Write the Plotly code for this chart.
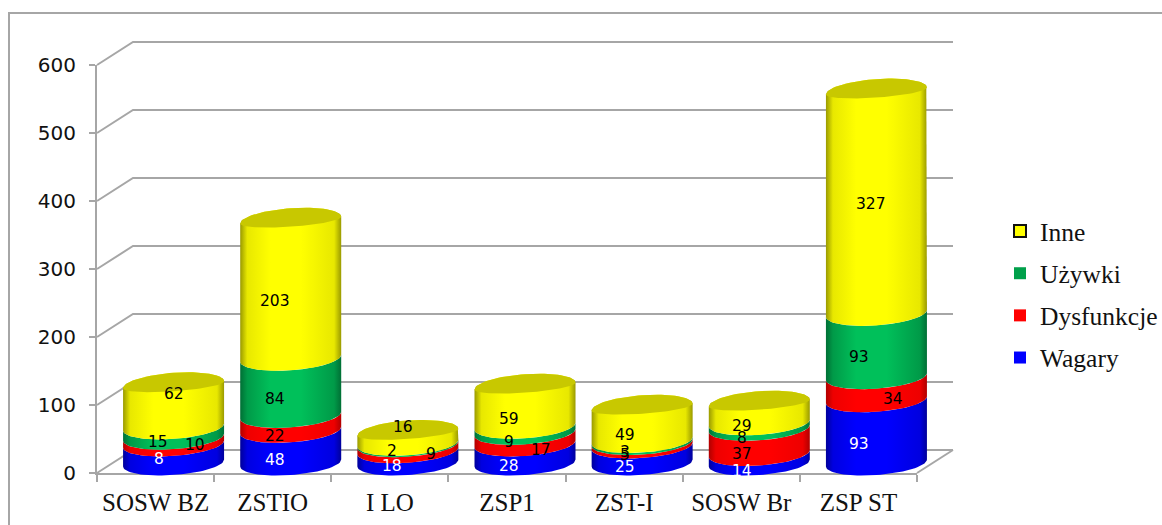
import math
import plotly.graph_objects as go

categories = ["SOSW BZ", "ZSTIO", "I LO", "ZSP1", "ZST-I", "SOSW Br", "ZSP ST"]
wagary = [28, 48, 18, 28, 25, 14, 93]
dysfunkcje = [10, 22, 9, 17, 5, 37, 34]
uzywki = [15, 84, 2, 9, 3, 8, 93]
inne = [62, 203, 16, 59, 49, 29, 327]
wagary_labels = ["8", "48", "18", "28", "25", "14", "93"]
y_ticks = [0, 100, 200, 300, 400, 500, 600]

# scale of the front plane, pixels per unit
W, H = 1162, 525
X0, Y0 = 97, 473
PX_U = 820 / 7
PX_V = 408 / 600
DEPTH_X, DEPTH_Y = 36, 23            # full depth of the 3D box
BAR_DX, BAR_DY = 18, 10              # depth position of the cylinders
A, B, SHEAR, B_TOP = 50.5, 12, 3.5, 6.5

def u(px): return px / PX_U
def v(px): return px / PX_V

GRID = "#a6a6a6"
series = [
    ("Wagary", wagary, ["#00009a", "#0000e0", "#0000ff", "#0000ff", "#0000e0", "#00009a"], "#0000ff", "white"),
    ("Dysfunkcje", dysfunkcje, ["#b00000", "#ee0000", "#ff0000", "#ff0000", "#ee0000", "#b00000"], "#ff0000", "black"),
    ("Używki", uzywki, ["#006f35", "#009a48", "#00c05a", "#00c05a", "#009a48", "#006f35"], "#00a04a", "black"),
    ("Inne", inne, ["#9a9a00", "#e8e800", "#ffff00", "#ffff00", "#e8e800", "#9a9a00"], "#ffff00", "black"),
]
# label nudges (pixels right, pixels down) from the middle of each cylinder segment
nudges = {
    "Wagary": [(-15, 5.5), (-16, 13.3), (-16, 9), (-16, 12.5), (-17, 12.5), (-17, 12.8), (-17, 12.6)],
    "Dysfunkcje": [(21, 4.4), (-16, 13.1), (23, 6), (16, 12), (-17, 10.7), (-17, 13), (17, 10.8)],
    "Używki": [(-16, 10), (-16, 12.2), (-16, 7), (-16, 12.7), (-17, 10.4), (-17, 12.4), (-17, 12)],
    "Inne": [(0, -12), (-16, 11.7), (-5, -11), (-16, 12.8), (-17, 11), (-17, 13), (-5, 1.8)],
}

def arc(cu, cv, b, start, stop, n=40):
    xs, ys = [], []
    for k in range(n + 1):
        t = math.radians(start + (stop - start) * k / n)
        xs.append(cu + u(A * math.cos(t)))
        ys.append(cv + v(b * math.sin(t) + SHEAR * math.cos(t)))
    return xs, ys

fig = go.Figure()
common = dict(xaxis="x2", yaxis="y2", hoverinfo="skip", showlegend=False)

# axes holder on the front plane
fig.add_trace(go.Scatter(x=[], y=[], xaxis="x", yaxis="y", hoverinfo="skip", showlegend=False))

# walls and floor of the 3D box
gx, gy = [], []
for t in y_ticks:
    gx += [0, u(DEPTH_X), 7 + u(DEPTH_X), None]
    gy += [t, t + v(DEPTH_Y), t + v(DEPTH_Y), None]
gx += [7, 7 + u(DEPTH_X), None]
gy += [0, v(DEPTH_Y), None]
fig.add_trace(go.Scatter(x=gx, y=gy, mode="lines", line=dict(color=GRID, width=2), **common))

annotations = []
for i, cat in enumerate(categories):
    cu = i + 0.5 + u(BAR_DX)
    base = v(BAR_DY)
    cum = 0
    for s_idx, (name, vals, cols, key, txt) in enumerate(series):
        low, high = cum, cum + vals[i]
        cum = high
        bx, by = arc(cu, low + base, B, 180, 360)
        if s_idx == len(series) - 1:
            tx, ty = arc(cu, high + base, B, 0, 180)      # top segment closes over the back arc
        else:
            tx, ty = arc(cu, high + base, B, 360, 180)
        stops = [0, 0.07, 0.3, 0.6, 0.93, 1]
        fig.add_trace(go.Scatter(
            x=bx + tx + [bx[0]], y=by + ty + [by[0]], mode="lines", fill="toself",
            line=dict(width=0),
            fillgradient=dict(type="horizontal", colorscale=list(zip(stops, cols))),
            **common))
        label = wagary_labels[i] if name == "Wagary" else str(vals[i])
        dx, dy = nudges[name][i]
        annotations.append(dict(
            x=cu, y=(low + high) / 2 + base, xref="x2", yref="y2", text=label, showarrow=False,
            xshift=dx, yshift=-dy, font=dict(family="DejaVu Sans", size=15.5, color=txt)))
    # olive lid of the cylinder
    bx, by = arc(cu, cum + base, B, 0, 180)
    fx, fy = arc(cu, cum + base, B_TOP, 180, 360)
    fig.add_trace(go.Scatter(
        x=bx + fx + [bx[0]], y=by + fy + [by[0]],
        mode="lines", fill="toself", fillcolor="#c8c800", line=dict(width=0), **common))

# legend keys
for name, vals, cols, key, txt in reversed(series):
    fig.add_trace(go.Scatter(
        x=[None], y=[None], mode="markers", name=name, legendgroup=name, xaxis="x2", yaxis="y2",
        marker=dict(symbol="square", size=16, color=key,
                    line=dict(color="#111111" if name == "Inne" else key, width=2 if name == "Inne" else 0)),
        hoverinfo="skip"))

fig.update_layout(
    width=W, height=H, margin=dict(l=0, r=0, t=0, b=0, pad=0, autoexpand=False),
    paper_bgcolor="white", plot_bgcolor="rgba(0,0,0,0)",
    showlegend=True,
    legend=dict(x=1000 / W, xanchor="left", y=1 - 208 / H, yanchor="top",
                traceorder="grouped", tracegroupgap=6,
                itemsizing="constant", itemwidth=30,
                font=dict(family="Liberation Serif", size=25.5, color="#111111"),
                bgcolor="rgba(0,0,0,0)"),
    xaxis=dict(domain=[X0 / W, (X0 + 820) / W], range=[0, 7], anchor="y",
               tickmode="array", tickvals=[i + 0.5 for i in range(7)], ticktext=categories,
               ticks="", showgrid=False, zeroline=False, showline=True, linecolor=GRID, linewidth=2,
               ticklabelstandoff=6,
               tickfont=dict(family="Liberation Serif", size=25, color="#111111"),
               minor=dict(tickmode="array", tickvals=list(range(8)), ticks="outside", ticklen=7,
                          tickcolor=GRID, tickwidth=2, showgrid=False)),
    yaxis=dict(domain=[(H - Y0) / H, (H - 65) / H], range=[0, 600], anchor="x",
               tickmode="array", tickvals=y_ticks, ticks="outside", ticklen=6, tickcolor=GRID, tickwidth=2,
               showgrid=False, zeroline=False, showline=True, linecolor=GRID, linewidth=2,
               ticklabelstandoff=9,
               tickfont=dict(family="DejaVu Sans", size=20, color="#111111")),
    xaxis2=dict(domain=[0, 1], range=[u(-X0), u(W - X0)], anchor="y2", visible=False, fixedrange=True),
    yaxis2=dict(domain=[0, 1], range=[v(Y0 - H), v(Y0)], anchor="x2", visible=False, fixedrange=True),
    annotations=annotations,
    shapes=[dict(type="path", xref="paper", yref="paper",
                 path=f"M {9/W} 0 L {9/W} {1-13/H} L 1 {1-13/H}",
                 line=dict(color=GRID, width=2))],
)
fig.write_html("out.html", config=dict(displayModeBar=False),
               post_script="document.body.style.margin='0';document.documentElement.style.overflow='hidden';")
